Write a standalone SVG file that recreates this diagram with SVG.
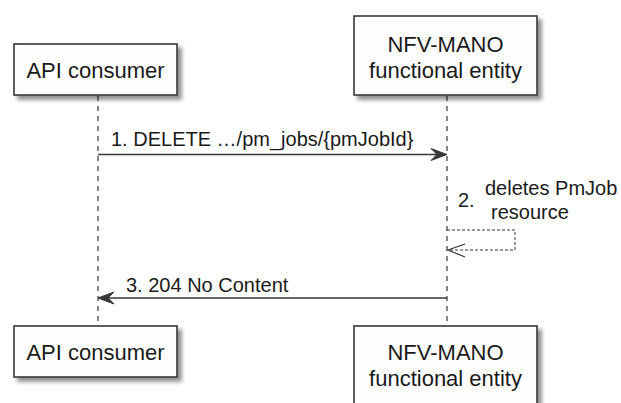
<svg xmlns="http://www.w3.org/2000/svg" width="621" height="403" viewBox="0 0 621 403">
<style>
.box{fill:#FEFEFE;stroke:#383838;stroke-width:1.6;filter:url(#sh)}
.pt{font-family:"Liberation Sans",Arial,sans-serif;font-size:22px;fill:#1a1a1a;text-anchor:middle}
.mt{font-family:"Liberation Sans",Arial,sans-serif;font-size:20px;fill:#1a1a1a}
.life{stroke:#383838;stroke-width:1.2;stroke-dasharray:5,5;fill:none}
.msg{stroke:#383838;stroke-width:1.5;fill:none}
.self{stroke:#383838;stroke-width:1;stroke-dasharray:3,2;fill:none}
</style>
<defs>
<filter id="sh" x="-10%" y="-10%" width="130%" height="140%">
<feGaussianBlur in="SourceAlpha" stdDeviation="2"/>
<feOffset dx="4" dy="4" result="b"/>
<feComponentTransfer><feFuncA type="linear" slope="0.45"/></feComponentTransfer>
<feMerge><feMergeNode/><feMergeNode in="SourceGraphic"/></feMerge>
</filter>
</defs>
<rect width="621" height="403" fill="#FFFFFF"/>
<g id="lifelines">
<line class="life" x1="98" y1="96" x2="98" y2="326"/>
<line class="life" x1="447" y1="96" x2="447" y2="326"/>
</g>
<g id="api-consumer-top">
<rect class="box" x="14" y="44" width="163" height="51"/>
<text class="pt" x="95.5" y="78">API consumer</text>
</g>
<g id="nfv-mano-top">
<rect class="box" x="354" y="16" width="183" height="79"/>
<text class="pt" x="445.5" y="52">NFV-MANO</text>
<text class="pt" x="445.5" y="78">functional entity</text>
</g>
<g id="api-consumer-bottom">
<rect class="box" x="14" y="326" width="163" height="51"/>
<text class="pt" x="95.5" y="360">API consumer</text>
</g>
<g id="nfv-mano-bottom">
<rect class="box" x="354" y="326" width="183" height="79"/>
<text class="pt" x="445.5" y="360">NFV-MANO</text>
<text class="pt" x="445.5" y="386">functional entity</text>
</g>
<g id="connectors">
<line class="msg" x1="98" y1="154.5" x2="440" y2="154.5"/>
<polygon points="447,154.5 431,148.5 437,154.5 431,160.5" fill="#383838" stroke="#383838" stroke-width="1"/>
<text class="mt" x="111" y="146">1. DELETE …/pm_jobs/{pmJobId}</text>
<polyline class="self" points="447,230 515,230 515,250 448,250"/>
<polyline class="msg" style="stroke-width:1.2" points="465,244 448,250 465,257"/>
<text class="mt" x="458" y="207">2.</text>
<text class="mt" x="485" y="195">deletes PmJob</text>
<text class="mt" x="491" y="219">resource</text>
<line class="msg" x1="105" y1="298" x2="447" y2="298"/>
<polygon points="98,298 114,292 108,298 114,304" fill="#383838" stroke="#383838" stroke-width="1"/>
<text class="mt" x="126" y="292">3. 204 No Content</text>
</g>
</svg>
